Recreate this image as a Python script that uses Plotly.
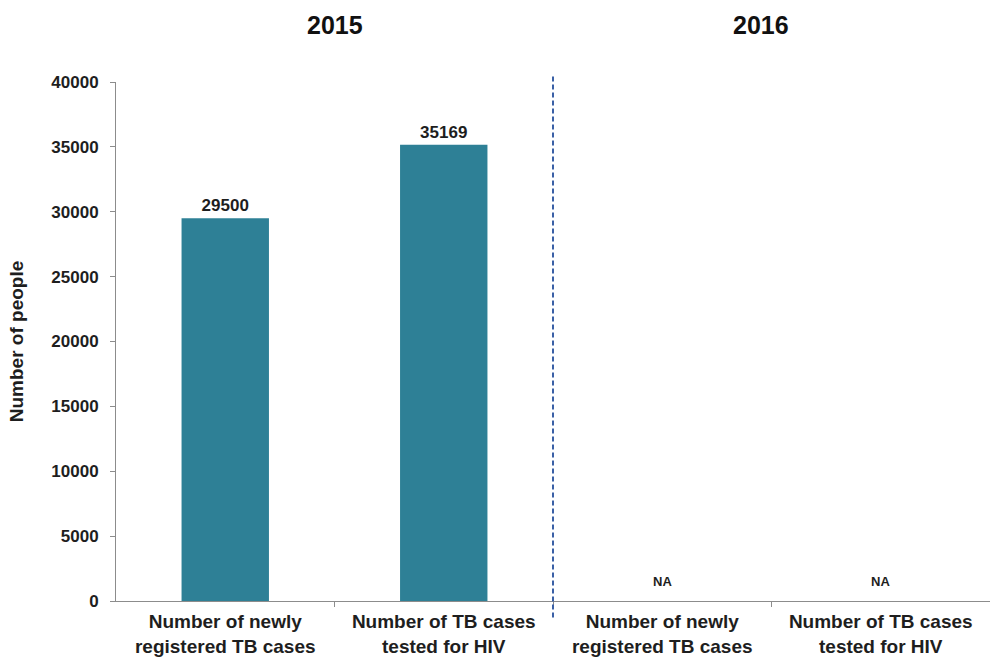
import plotly.graph_objects as go

# Categories shown on the x axis (two years, two indicators each)
categories = [
    "Number of newly<br>registered TB cases",
    "Number of TB cases<br>tested for HIV",
    "Number of newly<br>registered TB cases",
    "Number of TB cases<br>tested for HIV",
]
years = ["2015", "2016"]
year_centers = [0.5, 2.45]
values = [29500, 35169, None, None]
y_ticks = [0, 5000, 10000, 15000, 20000, 25000, 30000, 35000, 40000]

positions = list(range(len(categories)))
bar_color = "#2E8096"
font_family = "Liberation Sans, Arial, sans-serif"
text_color = "#1E1E1E"

fig = go.Figure()

fig.add_trace(go.Bar(
    x=positions,
    y=values,
    width=0.4,
    marker=dict(color=bar_color, line=dict(width=0)),
    text=[str(v) if v is not None else "" for v in values],
    textposition="outside",
    textfont=dict(family=font_family, size=17, color=text_color, weight="bold"),
    cliponaxis=False,
    hoverinfo="skip",
))

# "NA" markers for missing values
for p, v in zip(positions, values):
    if v is None:
        fig.add_annotation(
            x=p, y=0, xref="x", yref="y", text="<b>NA</b>", showarrow=False,
            yanchor="middle", yshift=20,
            font=dict(family=font_family, size=13, color=text_color),
        )

# Dashed divider between the two years
fig.add_shape(
    type="line", xref="x", yref="paper",
    x0=1.5, x1=1.5, y0=-0.032, y1=1.013,
    line=dict(color="#3A60A6", width=2, dash="5px,3px"),
)

# Year headings
for xc, yr in zip(year_centers, years):
    fig.add_annotation(
        x=xc, y=1.11, xref="x", yref="paper",
        text=f"<b>{yr}</b>", showarrow=False,
        font=dict(family=font_family, size=25, color="#111111"),
        xanchor="center", yanchor="middle",
    )

fig.update_layout(
    width=992, height=658,
    margin=dict(l=116, r=2, t=82, b=57),
    paper_bgcolor="white", plot_bgcolor="white",
    showlegend=False,
    font=dict(family=font_family, color=text_color),
)

fig.update_xaxes(
    range=[-0.5, 3.5],
    tickvals=positions,
    ticktext=[f"<b>{c}</b>" for c in categories],
    tickfont=dict(family=font_family, size=19, color=text_color),
    ticks="",
    ticklabelstandoff=3,
    showline=True, linecolor="#8C8C8C", linewidth=1,
    showgrid=False, zeroline=False,
    minor=dict(tickvals=[0.5, 1.5, 2.5], ticks="outside", ticklen=5,
               tickcolor="#8C8C8C", showgrid=False),
)

fig.update_yaxes(
    range=[0, 40000],
    tickvals=y_ticks,
    ticktext=[f"<b>{t}</b>" for t in y_ticks],
    tickfont=dict(family=font_family, size=17, color=text_color),
    ticks="outside", ticklen=5, tickcolor="#8C8C8C",
    ticklabelstandoff=8,
    showline=True, linecolor="#8C8C8C", linewidth=1,
    showgrid=False, zeroline=False,
    title=dict(text="<b>Number of people</b>", standoff=22,
               font=dict(family=font_family, size=19, color=text_color)),
)

fig.write_html("out.html")
